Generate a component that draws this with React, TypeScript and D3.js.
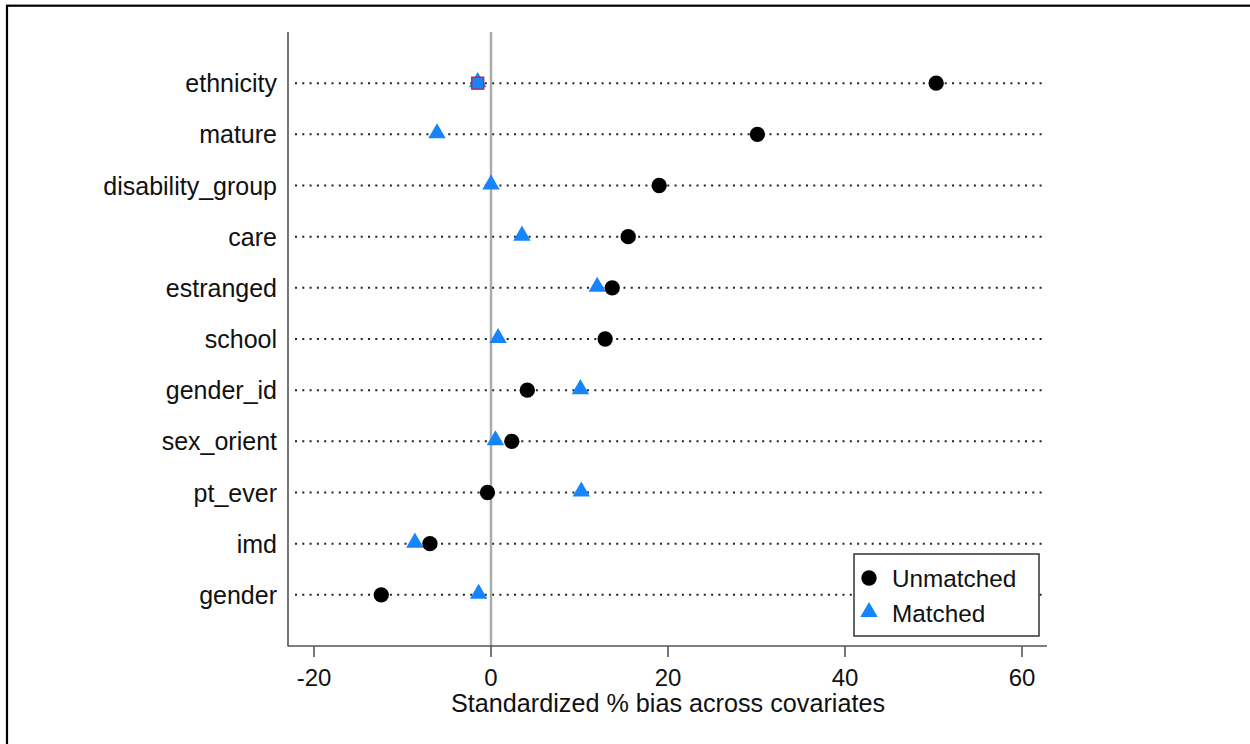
import React from "react";
import * as d3 from "d3";

const categories = [
  "ethnicity",
  "mature",
  "disability_group",
  "care",
  "estranged",
  "school",
  "gender_id",
  "sex_orient",
  "pt_ever",
  "imd",
  "gender",
];
const unmatched = [50.3, 30.1, 19.0, 15.5, 13.7, 12.9, 4.1, 2.35, -0.4, -6.9, -12.4];
const matched = [-1.5, -6.1, 0.0, 3.5, 12.0, 0.8, 10.1, 0.5, 10.2, -8.6, -1.4];
const xTicks = [-20, 0, 20, 40, 60];
const xTitle = "Standardized % bias across covariates";
const legendLabels = ["Unmatched", "Matched"];

const W = 1250;
const H = 744;
const FONT = "'Liberation Sans', Arial, sans-serif";
const BLUE = "#1685fb";

export default function App() {
  const x = d3.scaleLinear().domain([0, 60]).range([491, 1022]);
  const y = d3
    .scalePoint<string>()
    .domain(categories)
    .range([32, 646])
    .padding(1);
  const left = 288;
  const right = 1047;
  const top = 32;
  const bottom = 646;
  const circ = d3.symbol().type(d3.symbolCircle).size(185)() as string;
  const tri = d3.symbol().type(d3.symbolTriangle).size(132)() as string;

  return (
    <svg
      width={W}
      height={H}
      style={{ position: "absolute", left: 0, top: 0, background: "#fff" }}
      fontFamily={FONT}
    >
      <rect x={0} y={0} width={W} height={H} fill="#fff" />
      <rect x={7} y={5.7} width={W + 20} height={H + 20} fill="none" stroke="#000" strokeWidth={2.2} />

      {/* dotted row lines */}
      {categories.map((c) => (
        <line
          key={"g" + c}
          x1={295}
          x2={1044}
          y1={y(c)}
          y2={y(c)}
          stroke="#222"
          strokeWidth={2}
          strokeDasharray="2 5.3"
        />
      ))}

      {/* zero line */}
      <line x1={x(0)} x2={x(0)} y1={top} y2={bottom} stroke="#ababab" strokeWidth={2.5} />

      {/* axes */}
      <line x1={left} x2={left} y1={top} y2={bottom + 0.5} stroke="#555" strokeWidth={1.6} />
      <line x1={left} x2={right} y1={bottom} y2={bottom} stroke="#555" strokeWidth={1.6} />
      {xTicks.map((t) => (
        <g key={"t" + t}>
          <line x1={x(t)} x2={x(t)} y1={bottom} y2={bottom + 11} stroke="#555" strokeWidth={1.6} />
          <text x={x(t)} y={686} textAnchor="middle" fontSize={24} fill="#111">
            {t < 0 ? "-" + Math.abs(t) : String(t)}
          </text>
        </g>
      ))}
      <text x={668} y={712} textAnchor="middle" fontSize={25.2} fill="#111">
        {xTitle}
      </text>

      {/* category labels */}
      {categories.map((c) => (
        <text key={"l" + c} x={277} y={(y(c) as number) + 9} textAnchor="end" fontSize={25} fill="#111">
          {c}
        </text>
      ))}

      {/* markers */}
      {categories.map((c, i) => (
        <path key={"u" + c} d={circ} transform={`translate(${x(unmatched[i])},${y(c)})`} fill="#000" />
      ))}
      {categories.map((c, i) => (
        <path key={"m" + c} d={tri} transform={`translate(${x(matched[i])},${(y(c) as number) - 1})`} fill={BLUE} />
      ))}
      {/* highlighted ethnicity matched marker */}
      <rect
        x={x(matched[0]) - 6}
        y={(y(categories[0]) as number) - 6}
        width={12}
        height={12}
        fill={BLUE}
        stroke="#e8141c"
        strokeWidth={1.3}
      />

      {/* legend */}
      <rect x={854} y={554} width={185} height={82} fill="#fff" stroke="#333" strokeWidth={1.5} />
      <path d={circ} transform="translate(869,578)" fill="#000" />
      <path d={tri} transform="translate(869,612)" fill={BLUE} />
      <text x={892} y={587} fontSize={24.3} fill="#111">
        {legendLabels[0]}
      </text>
      <text x={892} y={622} fontSize={24.3} fill="#111">
        {legendLabels[1]}
      </text>
    </svg>
  );
}
